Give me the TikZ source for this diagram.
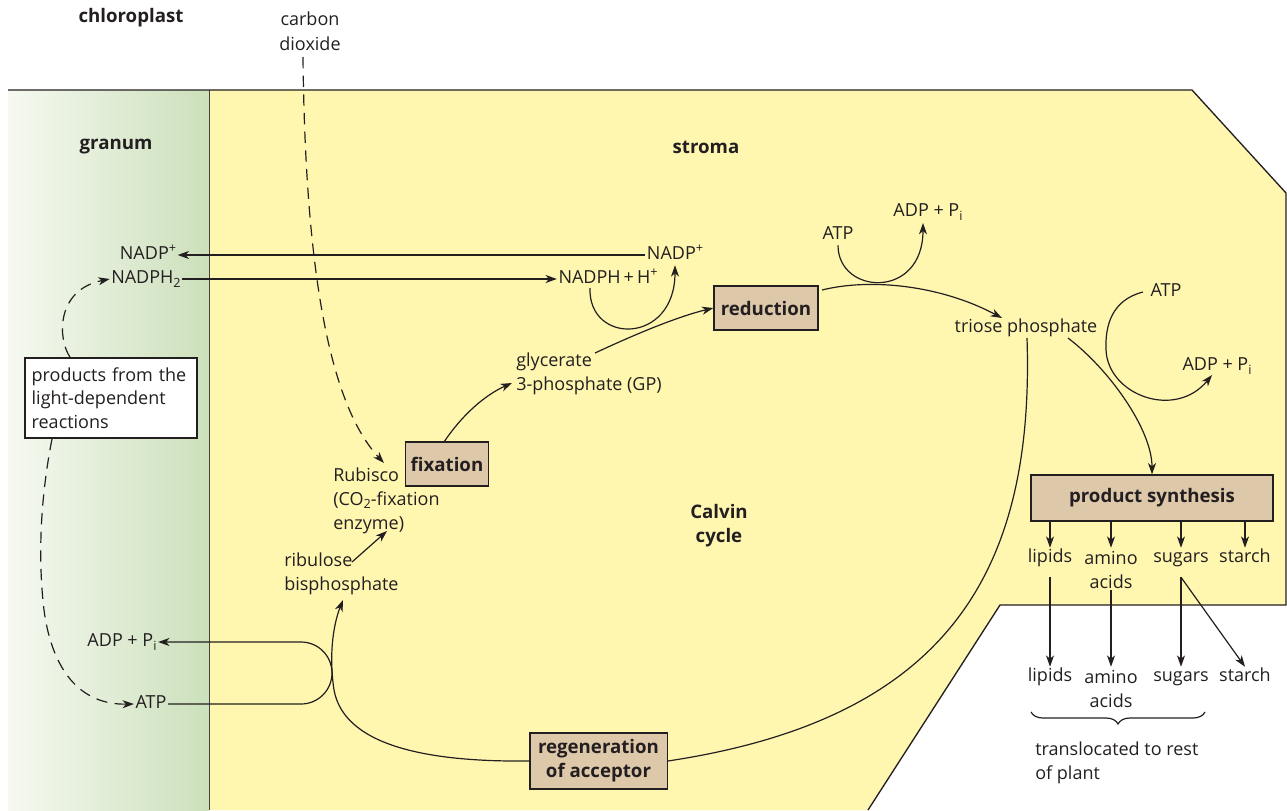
\documentclass[tikz,border=0pt]{standalone}
\usepackage{fontspec}
\setmainfont{Open Sans}
\usetikzlibrary{arrows.meta,decorations.pathreplacing,calc}
\definecolor{ink}{RGB}{35,31,32}
\definecolor{stromaY}{RGB}{255,247,176}
\definecolor{granR}{RGB}{204,224,187}
\definecolor{granL}{RGB}{246,249,241}
\definecolor{boxtan}{RGB}{222,200,170}
\newcommand\mysup[1]{\raisebox{0.38em}{\fontsize{9.5}{10}\selectfont #1}}
\newcommand\mysub[1]{\raisebox{-0.22em}{\fontsize{9.5}{10}\selectfont #1}}
\begin{document}
\begin{tikzpicture}[x=0.75pt,y=-0.75pt,
  every node/.style={text=ink},
  lab/.style={font=\fontsize{13.5}{18}\selectfont, inner sep=1pt, text height=10pt, text depth=3pt},
  mlab/.style={font=\fontsize{13.5}{18}\selectfont, inner sep=0pt, anchor=base west, align=left},
  clab/.style={font=\fontsize{13.5}{18}\selectfont, inner sep=1pt, anchor=base, align=center},
  ttl/.style={font=\fontsize{14}{18}\selectfont\bfseries, inner sep=1pt},
  stepbox/.style={draw=ink, line width=1pt, fill=boxtan, font=\fontsize{14}{18}\selectfont\bfseries, inner sep=2pt, align=center},
  arr/.style={draw=ink, line width=0.9pt, -{Stealth[length=8.5pt,width=6pt,inset=2.5pt]}},
  dasharr/.style={arr, dash pattern=on 8.5pt off 5.5pt},
  plain/.style={draw=ink, line width=0.9pt}
]
\useasboundingbox (0,0) rectangle (1287,810);
% regions
\shade[left color=granL, right color=granR] (8,90) rectangle (209,810);
\fill[stromaY] (209,90) -- (1192,90) -- (1286,193) -- (1286,605) -- (1000,605) -- (868,810) -- (209,810) -- cycle;
\draw[ink!85, line width=0.5pt] (209,90) -- (209,810);
\draw[ink, line width=1pt] (8,90) -- (1192,90) -- (1286,193) -- (1286,605) -- (1000,605) -- (868,810);

% titles
\node[ttl] (chl) at (131,18) {chloroplast};
\node[clab] (co2) at (310,50) {carbon\\dioxide};
\node[ttl] (gran) at (116,147) {granum};
\node[ttl] (strm) at (706,147) {stroma};
\node[ttl, anchor=base, align=center] (calvin) at (719,542) {Calvin\\cycle};

% labels
\node[lab] (nadpL) at (148,255) {NADP\mysup{+}};
\node[lab] (nadph2) at (146,279) {NADPH\mysub{2}};
\node[lab] (nadpR) at (675,255) {NADP\mysup{+}};
\node[lab] (nadphH) at (608,279) {NADPH\,+\,H\mysup{+}};
\node[lab] (adpT) at (928,212) {ADP + P\mysub{i}};
\node[lab] (atpT) at (838,235) {ATP};
\node[stepbox, minimum width=78pt, minimum height=33pt] (red) at (766,308) {reduction};
\node[lab] (triose) at (1026,328) {triose phosphate};
\node[lab] (atpR) at (1166,292) {ATP};
\node[lab] (adpR) at (1217,366) {ADP + P\mysub{i}};
\node[stepbox, minimum width=181.5pt, minimum height=34.5pt] (ps) at (1152,498) {product synthesis};

\node[lab] (lip1) at (1050,558) {lipids};
\node[clab] (ami1) at (1111,588) {amino\\acids};
\node[lab] (sug1) at (1181,558) {sugars};
\node[lab] (sta1) at (1245,558) {starch};
\node[lab] (lip2) at (1050,677) {lipids};
\node[clab] (ami2) at (1111,707) {amino\\acids};
\node[lab] (sug2) at (1181,677) {sugars};
\node[lab] (sta2) at (1245,677) {starch};
\node[mlab] (trans) at (1035,779) {translocated to rest\\of plant};

\node[mlab] (gp) at (516,390) {glycerate\\3-phosphate (GP)};
\node[stepbox, minimum width=62pt, minimum height=33pt] (fix) at (447,464) {fixation};
\node[mlab] (rub) at (333,529) {Rubisco\\(CO\mysub{2}-fixation\\enzyme)};
\node[mlab] (rib) at (284,590) {ribulose\\bisphosphate};
\node[stepbox, minimum width=103pt, minimum height=42pt] (regen) at (598.5,761) {regeneration\\of acceptor};
\node[lab] (adpB) at (122,642) {ADP + P\mysub{i}};
\node[lab] (atpB) at (151,704) {ATP};
\node[draw=ink, fill=white, line width=0.8pt, minimum width=129pt, minimum height=60pt,
      align=left, text width=119pt, inner xsep=5pt, font=\fontsize{13.5}{17.6}\selectfont] (prod) at (111,398)
      {products from the\\light-dependent\\reactions};

% connectors
\coordinate (co2s) at (303,57);
\draw[dasharr] (co2s) .. controls (305,250) and (325,400) .. (384,463);
\draw[arr] (nadpR.west) -- (nadpL.east);
\draw[arr] (nadph2.east) -- (nadphH.west);
\draw[arr] (590,288) .. controls (588,345) and (675,345) .. (nadpR.south);
\draw[arr] (595,353) .. controls (640,332) and (680,316) .. (red.west);
\draw[arr] (822,290) .. controls (870,278) and (940,285) .. (1002,318);
\draw[arr] (atpT.south) .. controls (838,295) and (923,300) .. (923,223);
\draw[arr] (1068,338) .. controls (1110,370) and (1152,430) .. (ps.north);
\draw[arr] ($(atpR.west)+(-6,0)$) .. controls (1112,300) and (1105,325) .. (1106,350) .. controls (1108,395) and (1175,420) .. (1212,375);
\draw[plain] (1027,338) .. controls (1035,580) and (940,720) .. (regen.east);
\draw[arr] (regen.west) .. controls (440,762) and (345,750) .. (334,690) .. controls (328,650) and (335,620) .. (343,600);
\draw[arr] (atpB.east) -- (301,704) arc[start angle=90, end angle=-90, radius=31] -- (adpB.east);
\draw[arr] (352,562) -- (387,531);
\draw[arr] (444,442) .. controls (462,415) and (485,395) .. (512,383);
\draw[dasharr] (70,357) .. controls (58,340) and (55,290) .. (nadph2.west);
\draw[dasharr] (52,439) .. controls (40,500) and (38,560) .. (44,610) .. controls (52,670) and (80,705) .. (atpB.west);

\draw[arr] (ps.south -| lip1) -- (lip1.north);
\draw[arr] (ps.south -| ami1.base) -- (ami1.base |- lip1.north);
\draw[arr] (ps.south -| sug1) -- (sug1.north);
\draw[arr] (ps.south -| sta1) -- (sta1.north);
\draw[arr] (lip1.south) ++(0,9) -- (lip2.north);
\draw[arr] (ami1.south) -- (ami2.base |- lip2.north);
\draw[arr] (sug1.south) ++(0,9) -- (sug2.north);
\draw[arr] ($(sug1.south)+(0,9)$) -- (sta2.north);
\draw[plain, decorate, decoration={brace, amplitude=9pt}] (1205,712) -- (1031,712);
\end{tikzpicture}
\end{document}
